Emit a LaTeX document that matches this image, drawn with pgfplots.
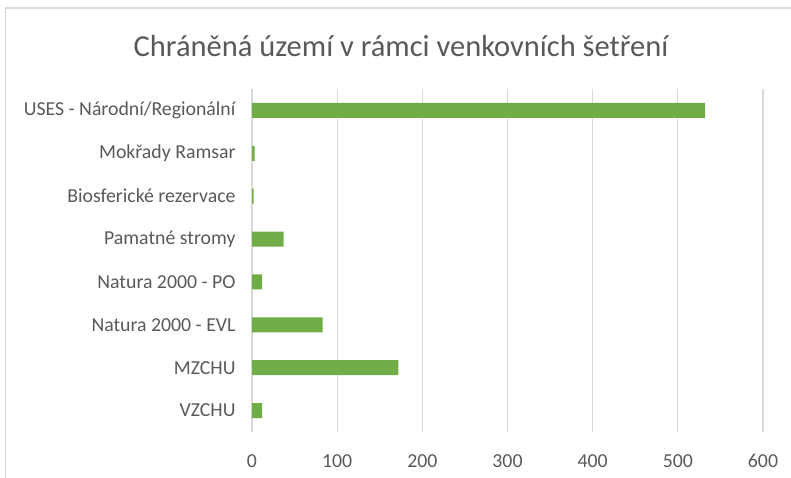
\documentclass[border=0pt]{standalone}
\usepackage{pgfplots}
\pgfplotsset{compat=1.18}
\usepackage{fontspec}
\setmainfont{Carlito}
\definecolor{bargreen}{HTML}{70AD47}
\definecolor{gridgray}{HTML}{D9D9D9}
\definecolor{txtgray}{HTML}{595959}
\begin{document}
\begin{tikzpicture}[x=1pt,y=1pt]
\path[use as bounding box] (0,0) rectangle (791,478);
\draw[gridgray, line width=1.8pt] (5.5,0) -- (5.5,470) -- (791,470);
\node[txtgray, font=\fontsize{30.5}{36}\selectfont] at (401,432) {Chráněná území v rámci venkovních šetření};
\begin{axis}[
  at={(252pt,46pt)}, anchor=south west,
  width=511pt, height=343pt, scale only axis,
  xbar, bar width=15pt,
  xmin=0, xmax=600, ymin=-0.5, ymax=7.5,
  xtick={0,100,...,600},
  ytick={0,...,7},
  yticklabels={VZCHU,MZCHU,Natura 2000 - EVL,Natura 2000 - PO,Pamatné stromy,Biosferické rezervace,Mokřady Ramsar,USES - Národní/Regionální},
  xmajorgrids, major grid style={gridgray, line width=1.2pt},
  axis line style={draw=none},
  axis x line*=bottom, axis y line*=left,
  major tick length=0pt,
  tick style={draw=none},
  ticklabel style={txtgray, font=\fontsize{19.8}{24}\selectfont},
  /pgf/number format/assume math mode=true,
  xticklabel style={yshift=-19pt},
  yticklabel style={xshift=-13pt},
  clip=false,
]
\addplot[fill=bargreen, draw=none] coordinates {
(12,0) (172,1) (83,2) (12,3) (37,4) (2,5) (3,6) (532,7)};
\end{axis}
\end{tikzpicture}
\end{document}
